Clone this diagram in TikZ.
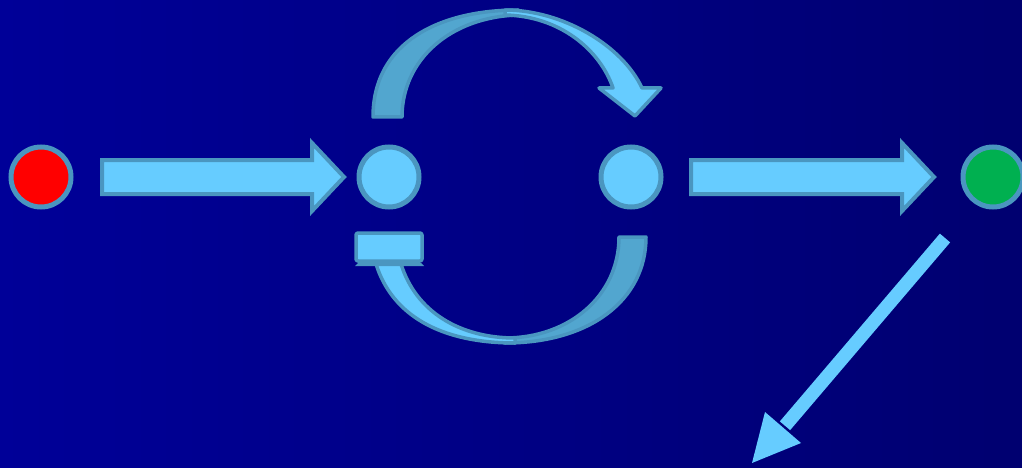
\documentclass[tikz,border=0pt]{standalone}
\usetikzlibrary{calc}
\definecolor{bgL}{HTML}{000098}
\definecolor{bgR}{HTML}{000070}
\definecolor{lightfill}{HTML}{66CCFF}
\definecolor{darkfill}{HTML}{52A6CF}
\definecolor{rimcol}{HTML}{4A96C0}
\definecolor{redfill}{HTML}{FF0000}
\definecolor{greenfill}{HTML}{00B050}
\tikzset{
  dot/.style={circle, draw=rimcol, line width=5pt, minimum size=60pt, inner sep=0pt},
  blockarrow/.style={fill=lightfill, draw=rimcol, line width=4pt, line join=miter},
  bandlight/.style={fill=lightfill, draw=rimcol, line width=3.5pt, line join=round},
  banddark/.style={fill=darkfill, draw=rimcol, line width=3.5pt, line join=round},
  thinarrow/.style={fill=lightfill}
}
\begin{document}
\begin{tikzpicture}[x=1pt,y=-1pt]
\shade[left color=bgL, right color=bgR] (0,0) rectangle (1022,468);
\useasboundingbox (0,0) rectangle (1022,468);
% circles
\node[dot, fill=redfill] (start) at (41,177) {};
\node[dot, fill=lightfill] (p1) at (389,177) {};
\node[dot, fill=lightfill] (p2) at (631,177) {};
\node[dot, fill=greenfill] (finish) at (993,177) {};
% block arrows
\draw[blockarrow] (102,160) -- (312,160) -- (312,143) -- (344,177) -- (312,211) -- (312,194) -- (102,194) -- cycle;
\draw[blockarrow] (691,160) -- (902,160) -- (902,143) -- (934,177) -- (902,211) -- (902,194) -- (691,194) -- cycle;
% top curved arrow: back (dark) part
\draw[banddark] (373,117) .. controls (373,42) and (440,10) .. (518,10)
   -- (518,15) .. controls (450,17) and (402,60) .. (402,117) -- cycle;
% top curved arrow: front (light) part with head
\draw[bandlight] (505,10) .. controls (562,10) and (622,45) .. (642,88)
   -- (661,88) -- (635,116) -- (599,88) -- (613,88)
   .. controls (600,50) and (560,16) .. (505,15) -- cycle;
% bottom curved arrow: back (dark) part
\draw[banddark] (646,237) .. controls (646,300) and (590,343) .. (505,343)
   -- (505,338) .. controls (570,338) and (619,295) .. (619,237) -- cycle;
% bottom curved arrow: front (light) part
\draw[bandlight] (376,264) .. controls (392,315) and (440,343) .. (515,343)
   -- (515,338) .. controls (460,338) and (416,312) .. (401,264) -- cycle;
% flattened head of the bottom arrow
\fill[rimcol] (358,263) -- (421,263) -- (424,266) -- (355,266) -- cycle;
\draw[bandlight, line width=3.5pt, rounded corners=2pt] (356,233) rectangle (422,261);
% diagonal arrow leaving the end
\coordinate (dstart) at (945,238);
\coordinate (dtip) at (752,463);
\coordinate (dbase) at (783,428);
\draw[lightfill, line width=13.5pt] (dstart) -- ($(dbase)!-3pt!(dtip)$);
\fill[thinarrow] (dtip) -- (765,412) -- (801,443) -- cycle;
\end{tikzpicture}
\end{document}
